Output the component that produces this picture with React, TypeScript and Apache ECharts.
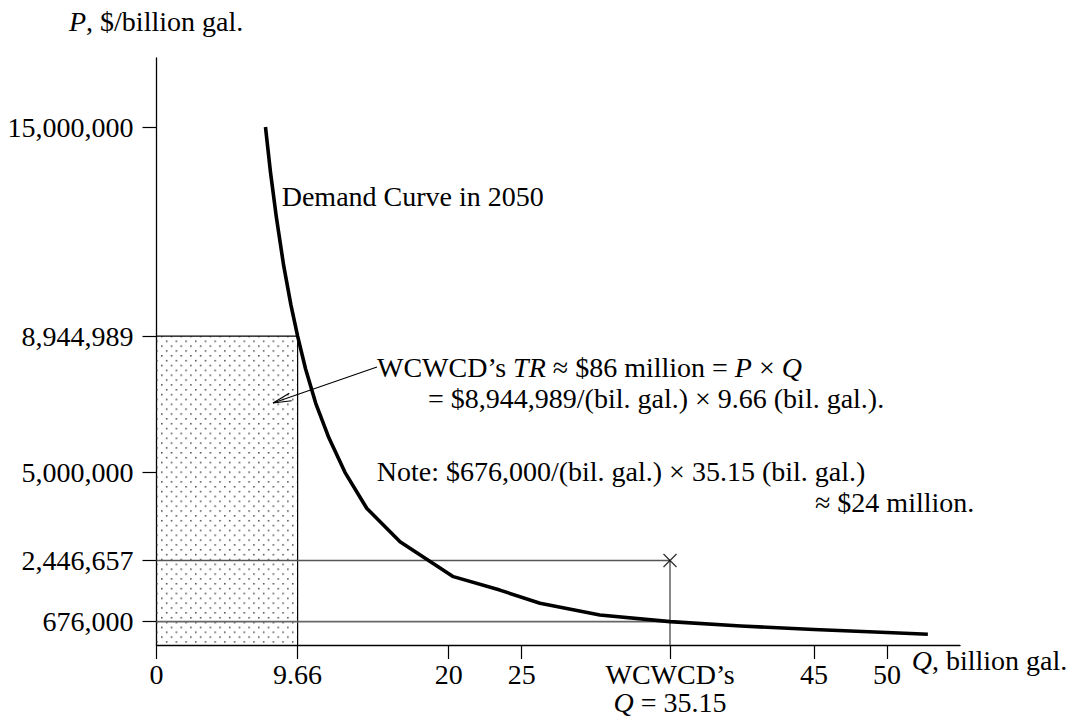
import React, { useEffect, useRef } from "react";
import * as echarts from "echarts";

// Demand curve in 2050 (Q in billion gal., P in $/billion gal.)
const demandQ = [7.46, 7.8, 8.2, 8.7, 9.2, 9.66, 10.2, 10.9, 11.8, 12.9, 14.39, 16.67, 20.32, 23.5, 26.25, 30.35, 35.15, 40, 45, 50, 52.8];
const demandP = [15000000, 13700000, 12400000, 11000000, 9850000, 8944989, 8000000, 7000000, 6000000, 5000000, 3960000, 2990000, 1980000, 1590000, 1210000, 870000, 676000, 550000, 450000, 360000, 310000];

const yTickValues = [676000, 2446657, 5000000, 8944989, 15000000];
const xTickValues = [0, 9.66, 20, 25, 35.15, 45, 50];

const trQ = 9.66;
const trP = 8944989;
const wcwcdQ = 35.15;
const wcwcdP = 2446657;
const lowP = 676000;

const FONT = "'Liberation Serif', 'Times New Roman', Times, serif";
const FS = 28;

function commas(v: number): string {
  const s = String(Math.round(v));
  return s.replace(/\B(?=(\d{3})+(?!\d))/g, ",");
}

export default function App() {
  const ref = useRef<HTMLDivElement>(null);
  useEffect(() => {
    if (!ref.current) return;
    const chart = echarts.init(ref.current, null, { renderer: "svg" });

    const dotSvg =
      "<svg xmlns='http://www.w3.org/2000/svg' width='9.7' height='9.7'>" +
      "<rect x='1' y='1' width='1.5' height='1.5' fill='#444'/>" +
      "<rect x='5.85' y='5.85' width='1.5' height='1.5' fill='#444'/></svg>";
    const dotUrl = "data:image/svg+xml;charset=utf-8," + encodeURIComponent(dotSvg);
    const pattern: any = { image: dotUrl, repeat: "repeat", imageWidth: 9.7, imageHeight: 9.7 };

    const n = { fontFamily: FONT, fontSize: FS, color: "#000" };
    const it = { fontFamily: FONT, fontSize: FS, color: "#000", fontStyle: "italic" };
    const txt = (x: number, y: number, text: string) => ({
      type: "text",
      x,
      y,
      silent: true,
      z: 100,
      style: {
        text,
        fill: "#000",
        fontFamily: FONT,
        fontSize: FS,
        verticalAlign: "middle",
        textVerticalAlign: "middle",
        align: "left",
        rich: {
          n: { fontFamily: FONT, fontSize: FS, fill: "#000", color: "#000" },
          i: { fontFamily: FONT, fontSize: FS, fill: "#000", color: "#000", fontStyle: "italic" },
        },
      },
    });

    const option: any = {
      animation: false,
      backgroundColor: "#fff",
      grid: { left: 156.5, right: 111, top: 58, bottom: 72, containLabel: false, outerBoundsMode: "none" },
      xAxis: {
        type: "value",
        min: 0,
        max: 55,
        axisLine: { show: true, onZero: false, lineStyle: { color: "#000", width: 1.3 } },
        axisTick: { show: true, length: 14, customValues: xTickValues, lineStyle: { color: "#000", width: 1.2 } },
        axisLabel: {
          customValues: xTickValues,
          margin: 15,
          fontFamily: FONT,
          fontSize: FS,
          color: "#000",
          lineHeight: 28,
          formatter: (v: number) =>
            Math.abs(v - wcwcdQ) < 1e-6 ? "{a|WCWCD\u2019s}\n{q|Q}{a| = 35.15}" : "{a|" + String(v) + "}",
          rich: {
            a: { ...n, lineHeight: 28 },
            q: { ...it, lineHeight: 28 },
          },
        },
        splitLine: { show: false },
      },
      yAxis: {
        type: "value",
        min: 0,
        max: 17000000,
        axisLine: { show: true, onZero: false, lineStyle: { color: "#000", width: 1.3 } },
        axisTick: { show: true, length: 14, customValues: yTickValues, lineStyle: { color: "#000", width: 1.2 } },
        axisLabel: {
          customValues: yTickValues,
          margin: 23,
          fontFamily: FONT,
          fontSize: FS,
          color: "#000",
          formatter: (v: number) => commas(v),
        },
        splitLine: { show: false },
      },
      series: [
        {
          type: "custom",
          silent: true,
          z: 1,
          renderItem: (_p: any, api: any) => {
            const p0 = api.coord([0, api.value(1)]);
            const p1 = api.coord([api.value(0), 0]);
            return {
              type: "rect",
              shape: { x: p0[0], y: p0[1], width: p1[0] - p0[0], height: p1[1] - p0[1] },
              style: { fill: pattern, stroke: "none" },
            };
          },
          data: [[trQ, trP]],
        },
        {
          type: "line",
          silent: true,
          z: 2,
          symbol: "none",
          lineStyle: { color: "#000", width: 1.2 },
          data: [[0, trP], [trQ, trP], [trQ, 0]],
        },
        {
          type: "line",
          silent: true,
          z: 2,
          symbol: "none",
          lineStyle: { color: "#555", width: 1.4 },
          data: [[0, wcwcdP], [wcwcdQ, wcwcdP], [wcwcdQ, 0]],
        },
        {
          type: "line",
          silent: true,
          z: 2,
          symbol: "none",
          lineStyle: { color: "#666", width: 1.8 },
          data: [[0, lowP], [wcwcdQ, lowP]],
        },
        {
          type: "line",
          silent: true,
          z: 5,
          symbol: "none",
          smooth: false,
          lineStyle: { color: "#000", width: 3.6, join: "round" },
          data: demandQ.map((q, i) => [q, demandP[i]]),
        },
        {
          type: "scatter",
          silent: true,
          z: 6,
          symbol: "path://M0,0L10,10M10,0L0,10",
          symbolSize: 13,
          itemStyle: { color: "none", borderColor: "#000", borderWidth: 1.3 },
          data: [[wcwcdQ, wcwcdP]],
        },
      ],
      graphic: [
        txt(69, 21.5, "{i|P}{n|, $/billion gal.}"),
        txt(281.7, 196.5, "{n|Demand Curve in 2050}"),
        txt(377, 367.5, "{n|WCWCD\u2019s }{i|TR}{n| \u2248 $86 million = }{i|P}{n| \u00d7 }{i|Q}"),
        txt(428, 398.5, "{n|= $8,944,989/(bil. gal.) \u00d7 9.66 (bil. gal.).}"),
        txt(376.7, 471.5, "{n|Note: $676,000/(bil. gal.) \u00d7 35.15 (bil. gal.)}"),
        txt(815, 502, "{n|\u2248 $24 million.}"),
        txt(911.7, 660.5, "{i|Q}{n|, billion gal.}"),
        {
          type: "line",
          silent: true,
          z: 100,
          shape: { x1: 377, y1: 367, x2: 273, y2: 403 },
          style: { stroke: "#000", lineWidth: 1.1 },
        },
        {
          type: "polyline",
          silent: true,
          z: 100,
          shape: { points: [[289.3, 393.3], [273, 403], [291.7, 400.7]] },
          style: { stroke: "#000", lineWidth: 1.1, fill: "none" },
        },
      ],
    };
    chart.setOption(option);
    return () => chart.dispose();
  }, []);
  return <div ref={ref} style={{ position: "absolute", left: 0, top: 0, width: 1071, height: 717 }} />;
}
